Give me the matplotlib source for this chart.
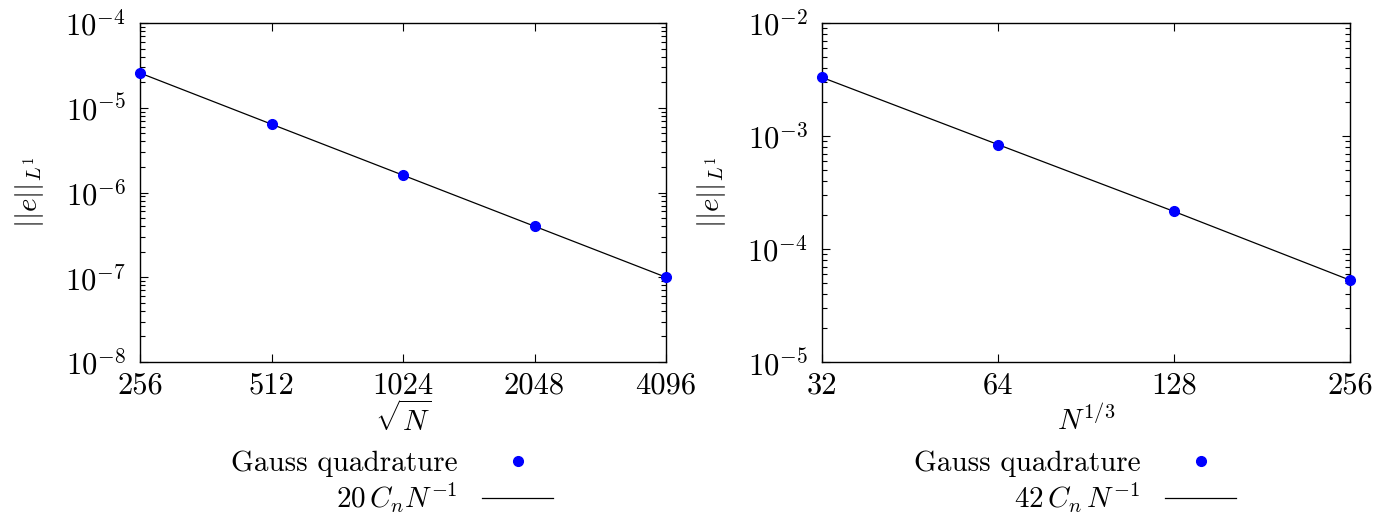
import matplotlib
matplotlib.use("Agg")
import matplotlib.pyplot as plt
from matplotlib.ticker import FixedLocator, FixedFormatter, LogLocator, NullLocator, NullFormatter

plt.rcParams['font.family'] = ['cmr10']
plt.rcParams['mathtext.fontset'] = 'cm'
plt.rcParams['axes.formatter.use_mathtext'] = True
plt.rcParams['axes.unicode_minus'] = False

FS = 21
TFS = 22

# Left panel data
x_left = [256, 512, 1024, 2048, 4096]
err_left = [2.57e-5, 6.4e-6, 1.6e-6, 4.03e-7, 1.0e-7]
ref_left = [2.57e-5, 6.4e-6, 1.6e-6, 4.0e-7, 1.0e-7]
xticks_left = [256, 512, 1024, 2048, 4096]
xticklabels_left = ['256', '512', '1024', '2048', '4096']
yticks_left = [1e-8, 1e-7, 1e-6, 1e-5, 1e-4]
yticklabels_left = [r'$10^{-8}$', r'$10^{-7}$', r'$10^{-6}$', r'$10^{-5}$', r'$10^{-4}$']

# Right panel data
x_right = [32, 64, 128, 256]
err_right = [3.3e-3, 8.4e-4, 2.15e-4, 5.3e-5]
ref_right = [3.3e-3, 8.4e-4, 2.15e-4, 5.3e-5]
xticks_right = [32, 64, 128, 256]
xticklabels_right = ['32', '64', '128', '256']
yticks_right = [1e-5, 1e-4, 1e-3, 1e-2]
yticklabels_right = [r'$10^{-5}$', r'$10^{-4}$', r'$10^{-3}$', r'$10^{-2}$']

W, H = 1385, 513
fig = plt.figure(figsize=(W / 100, H / 100), dpi=100)

ax1 = fig.add_axes([140 / W, (H - 362) / H, 526 / W, 339 / H])
ax2 = fig.add_axes([822 / W, (H - 362) / H, 528 / W, 339 / H])

panels = [
    (ax1, x_left, err_left, ref_left, xticks_left, xticklabels_left, yticks_left, yticklabels_left,
     r'$\sqrt{N}$', r'$20\,C_n N^{-1}$', (256, 4096), (1e-8, 1e-4), 392, 1),
    (ax2, x_right, err_right, ref_right, xticks_right, xticklabels_right, yticks_right, yticklabels_right,
     r'$N^{1/3}$', r'$42\,C_n\,N^{-1}$', (32, 256), (1e-5, 1e-2), 1075, 4),
]

for (ax, xs, es, rs, xt, xtl, yt, ytl, xlabel, reflabel, xlim, ylim, legx, xlp) in panels:
    ax.set_xscale('log', base=2)
    ax.set_yscale('log')
    ax.set_xlim(*xlim)
    ax.set_ylim(*ylim)
    l1, = ax.plot(xs, rs, color='black', lw=0.9, label=reflabel, zorder=2)
    p1, = ax.plot(xs, es, 'o', color='#0000ff', markersize=7, linestyle='none',
                  label='Gauss quadrature', clip_on=False, zorder=3)
    ax.xaxis.set_major_locator(FixedLocator(xt))
    ax.xaxis.set_major_formatter(FixedFormatter(xtl))
    ax.xaxis.set_minor_locator(NullLocator())
    ax.yaxis.set_major_locator(FixedLocator(yt))
    ax.yaxis.set_major_formatter(FixedFormatter(ytl))
    ax.yaxis.set_minor_locator(LogLocator(base=10, subs=range(2, 10), numticks=20))
    ax.yaxis.set_minor_formatter(NullFormatter())
    ax.tick_params(which='both', direction='in', top=True, right=True, labelsize=TFS, width=0.8)
    ax.tick_params(which='major', length=6)
    ax.tick_params(which='minor', length=3.5)
    ax.tick_params(axis='x', pad=7)
    ax.tick_params(axis='y', pad=10)
    for s in ax.spines.values():
        s.set_linewidth(1.0)
    ax.set_xlabel(xlabel, fontsize=FS, labelpad=xlp)
    ax.set_ylabel(r'$||e||_{L^1}$', fontsize=FS, labelpad=14)
    fig.legend(handles=[p1, l1], labels=['Gauss quadrature', reflabel],
               loc='center', bbox_to_anchor=(legx / W, (H - 483) / H),
               frameon=False, markerfirst=False, numpoints=1, fontsize=FS,
               handlelength=2.45, handletextpad=0.85, labelspacing=0.15)

fig.savefig('out.png', dpi=100)
